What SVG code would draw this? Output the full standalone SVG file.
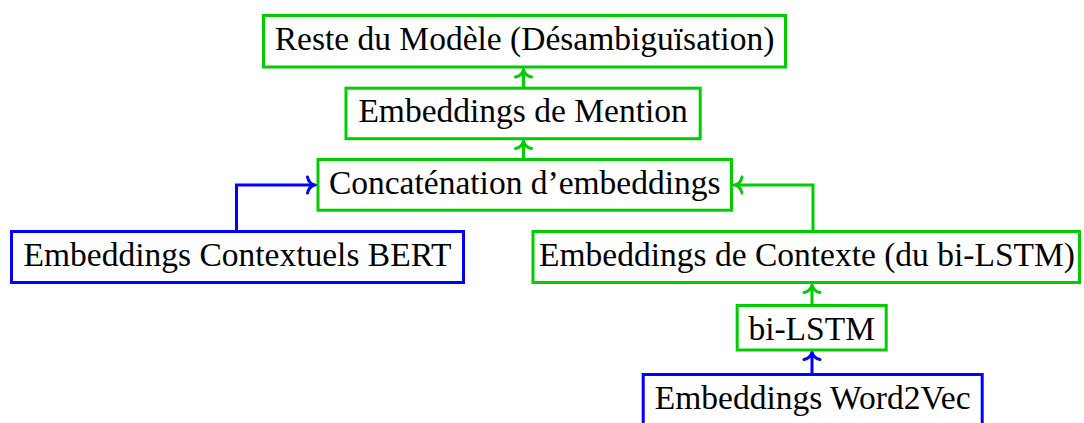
<svg xmlns="http://www.w3.org/2000/svg" width="1084" height="423" viewBox="0 0 1084 423">
  <style>
    .box { fill: #ffffff; stroke-width: 3; }
    .g { stroke: #00cc00; }
    .b { stroke: #0000ff; }
    .lbl { font-family: "Liberation Serif", "Times New Roman", serif; font-size: 33.5px; fill: #000000; text-anchor: middle; }
    .edge { fill: none; stroke-width: 3; }
  </style>
  <defs>
    <!-- open curved "to" arrow heads, tip at the path end -->
    <marker id="arrG" markerUnits="userSpaceOnUse" viewBox="-10 -10 14 20" refX="0" refY="0" markerWidth="14" markerHeight="20" orient="auto" overflow="visible">
      <path d="M-7,-8 C-6,-3 -2,-0.6 0,0 C-2,0.6 -6,3 -7,8" fill="none" stroke="#00cc00" stroke-width="3" stroke-linecap="round"/>
    </marker>
    <marker id="arrB" markerUnits="userSpaceOnUse" viewBox="-10 -10 14 20" refX="0" refY="0" markerWidth="14" markerHeight="20" orient="auto" overflow="visible">
      <path d="M-7,-8 C-6,-3 -2,-0.6 0,0 C-2,0.6 -6,3 -7,8" fill="none" stroke="#0000ff" stroke-width="3" stroke-linecap="round"/>
    </marker>
  </defs>

  <g id="connectors">
    <path class="edge g" d="M523.5,87 V70" marker-end="url(#arrG)"/>
    <path class="edge g" d="M523.5,158 V141.5" marker-end="url(#arrG)"/>
    <path class="edge b" d="M236.5,230 V185 H314.5" marker-end="url(#arrB)"/>
    <path class="edge g" d="M813,230 V185 H735" marker-end="url(#arrG)"/>
    <path class="edge g" d="M812,304 V285.5" marker-end="url(#arrG)"/>
    <path class="edge b" d="M812,373 V352.5" marker-end="url(#arrB)"/>
  </g>

  <g id="reste">
    <rect class="box g" x="263.5" y="15.5" width="522" height="51.5"/>
    <text class="lbl" x="524.5" y="50">Reste du Modèle (Désambiguïsation)</text>
  </g>

  <g id="mention">
    <rect class="box g" x="346" y="88.2" width="354.2" height="50.5"/>
    <text class="lbl" x="523.1" y="122">Embeddings de Mention</text>
  </g>

  <g id="concat">
    <rect class="box g" x="318" y="159.5" width="413.5" height="50.7"/>
    <text class="lbl" x="524.75" y="193.5">Concaténation d’embeddings</text>
  </g>

  <g id="bert">
    <rect class="box b" x="11.5" y="231.5" width="452" height="51"/>
    <text class="lbl" x="237.5" y="265.5">Embeddings Contextuels BERT</text>
  </g>

  <g id="contexte">
    <rect class="box g" x="533" y="231.5" width="546.5" height="51"/>
    <text class="lbl" x="807" y="265.5">Embeddings de Contexte (du bi-LSTM)</text>
  </g>

  <g id="bilstm">
    <rect class="box g" x="737.2" y="305.5" width="149" height="44.5"/>
    <text class="lbl" x="811.7" y="340">bi-LSTM</text>
  </g>

  <g id="word2vec">
    <rect class="box b" x="643.2" y="374.5" width="339" height="55"/>
    <text class="lbl" x="812.7" y="408.5">Embeddings Word2Vec</text>
  </g>
</svg>
